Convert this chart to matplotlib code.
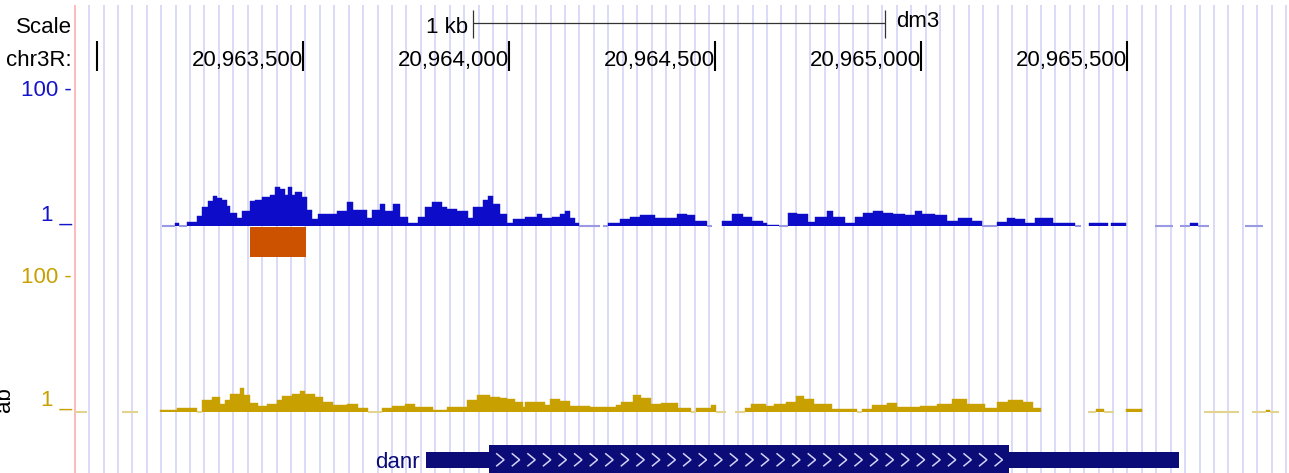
import numpy as np
import matplotlib
matplotlib.use("Agg")
import matplotlib.pyplot as plt

plt.rcParams['font.family'] = ['Liberation Sans', 'DejaVu Sans']

# =========================
# Data (dm3, chr3R window)
# =========================
view_start = 20962947
view_end = 20965894
chrom_base = 20963000

ruler_ticks = [20963000, 20963500, 20964000, 20964500, 20965000, 20965500]
ruler_labels = ['', '20,963,500', '20,964,000', '20,964,500', '20,965,000', '20,965,500']
scale_bar = (20963913, 20964913)

nan = np.nan

# blue signal: interval starts (bp after chrom_base) and values; nan = no data
blue_pos = [159, 190, 200, 219, 243, 256, 270, 282, 292, 304,
            316, 324, 340, 353, 372, 384, 401, 421, 433, 445,
            457, 464, 474, 481, 498, 510, 523, 537, 571, 583,
            607, 622, 656, 668, 688, 700, 719, 736, 756, 780,
            797, 814, 838, 850, 874, 901, 913, 938, 950, 962,
            979, 996, 1010, 1040, 1069, 1081, 1105, 1124, 1137, 1149,
            1161, 1171, 1222, 1229, 1241, 1270, 1294, 1319, 1355, 1374,
            1408, 1433, 1452, 1481, 1493, 1518, 1542, 1569, 1590, 1617,
            1627, 1656, 1678, 1700, 1726, 1743, 1772, 1787, 1816, 1840,
            1860, 1884, 1908, 1933, 1962, 1986, 2003, 2035, 2064, 2090,
            2124, 2149, 2185, 2209, 2229, 2253, 2277, 2321, 2374, 2389,
            2408, 2454, 2462, 2498, 2568, 2612, 2629, 2653, 2673, 2700,
            2787]
blue_val = [0, 1.12, 0, 1.18, 1.43, 1.90, 2.40, 2.84, 2.66, 2.48,
            2.03, 1.60, 1.35, 1.71, 2.40, 2.48, 2.75, 2.94, 3.85, 3.60,
            2.94, 3.85, 2.94, 3.25, 2.75, 1.77, 1.27, 1.50, 1.55, 1.71,
            2.25, 1.77, 1.31, 1.77, 2.17, 1.71, 2.17, 1.40, 1.11, 1.40,
            1.96, 2.32, 1.96, 1.83, 1.71, 1.35, 1.96, 2.48, 2.84, 2.17,
            1.55, 1.14, 1.27, 1.40, 1.50, 1.35, 1.40, 1.55, 1.66, 1.35,
            1.11, 0, nan, 0, 1.14, 1.27, 1.40, 1.45, 1.31, 1.35,
            1.52, 1.47, 1.22, 0, nan, 1.22, 1.50, 1.40, 1.22, 1.11,
            1.05, 0, 1.60, 1.50, 1.18, 1.40, 1.71, 1.40, 1.14, 1.40,
            1.60, 1.71, 1.60, 1.50, 1.45, 1.71, 1.50, 1.45, 1.22, 1.31,
            1.22, 0, 1.18, 1.35, 1.27, 1.14, 1.31, 1.14, 0, nan,
            1.11, nan, 1.11, nan, 0, nan, 0, 1.14, 0, nan,
            0]
blue_end = 2831

# yellow signal
yellow_pos = [-53, -23, 61, 101, 154, 195, 243, 256, 280, 299,
              311, 324, 348, 357, 372, 391, 413, 438, 450, 474,
              493, 506, 530, 549, 573, 607, 634, 658, 692, 717,
              748, 773, 816, 850, 899, 923, 955, 979, 997, 1015,
              1034, 1040, 1088, 1100, 1124, 1149, 1197, 1260, 1272, 1302,
              1321, 1345, 1370, 1411, 1442, 1455, 1491, 1503, 1527, 1549,
              1573, 1588, 1624, 1644, 1673, 1697, 1717, 1741, 1785, 1845,
              1857, 1882, 1918, 1942, 1998, 2039, 2076, 2112, 2156, 2185,
              2212, 2248, 2272, 2292, 2406, 2425, 2445, 2469, 2498, 2537,
              2688, 2772, 2804, 2838, 2848]
yellow_val = [0, nan, 0, nan, 1.08, 1.14, 0, 1.50, 1.66, 1.31,
              1.50, 1.83, 2.25, 1.77, 1.35, 1.22, 1.31, 1.50, 1.71, 1.83,
              2.03, 1.83, 1.66, 1.40, 1.27, 1.31, 1.14, 0, 1.14, 1.22,
              1.31, 1.18, 1.07, 1.18, 1.50, 1.77, 1.66, 1.62, 1.55, 1.40,
              1.18, 1.40, 1.27, 1.55, 1.45, 1.22, 1.18, 1.27, 1.40, 1.77,
              1.60, 1.31, 1.35, 1.14, 0, 1.14, 1.27, 0, nan, 0,
              1.14, 1.31, 1.22, 1.31, 1.40, 1.71, 1.55, 1.31, 1.11, 0,
              1.11, 1.27, 1.35, 1.18, 1.22, 1.31, 1.55, 1.31, 1.14, 1.40,
              1.50, 1.40, 1.14, nan, 0, 1.11, 0, nan, 1.11, nan,
              0, nan, 0, 1.07, 0]
yellow_end = 2870

# peak call under the blue track
peak_starts = [20963372]
peak_ends = [20963508]

# gene model
gene_name = 'danr'
tx_start, tx_end = 20963799, 20965627
cds_start, cds_end = 20963952, 20965214

# =========================
# Layout (pixels)
# =========================
W, H = 1289, 473
LABEL_PX = 74.7
bp_per_px = (view_end - view_start) / (W - LABEL_PX)

BLUE = '#0d0dc9'
BLUE_LIGHT = '#9a9ae4'
GOLD = '#c8a000'
GOLD_LIGHT = '#e4d38e'
NAVY = '#0c0c78'
GUIDE = '#dadaf8'

fig = plt.figure(figsize=(W / 100, H / 100), dpi=100)

# background axes: x in bp, y in pixels
ax = fig.add_axes([0, 0, 1, 1])
ax.set_xlim(view_start - LABEL_PX * bp_per_px, view_end)
ax.set_ylim(H, 0)
ax.axis('off')

# blue guide lines every 35 bp
guides = np.arange(20962982, view_end, 35)
ax.vlines(guides, 5, H, colors=GUIDE, linewidth=1.4, zorder=0.5)
ax.vlines(view_start, 5, H, colors='#ffb4b4', linewidth=1.3, zorder=0.6)


def ftext(px, py, s, **kw):
    fig.text(px / W, 1 - py / H, s, fontsize=16, va='baseline', **kw)


# left labels
ftext(72, 33.3, 'Scale', ha='right')
ftext(72, 65.5, 'chr3R:', ha='right')
ftext(72, 96.5, '100 -', ha='right', color='#1414c8')
ftext(72, 220.5, '1 _', ha='right', color='#1414c8')
ftext(72, 283.0, '100 -', ha='right', color=GOLD)
ftext(72, 405.5, '1 _', ha='right', color=GOLD)
fig.text(10 / W, 1 - 400 / H, 'ab', fontsize=16, rotation=90,
         rotation_mode='anchor', ha='center', va='baseline')

# scale bar
ax.hlines(23.5, scale_bar[0], scale_bar[1], colors='#333333', linewidth=0.9)
ax.vlines(scale_bar, 10, 38.5, colors='#333333', linewidth=0.9)
ax.annotate('1 kb', xy=(scale_bar[0], 32.7), xytext=(-3.5, 0),
            textcoords='offset points', ha='right', va='baseline', fontsize=16)
ax.annotate('dm3', xy=(scale_bar[1], 26.7), xytext=(8.5, 0),
            textcoords='offset points', ha='left', va='baseline', fontsize=16)

# base position ruler
ax.vlines(ruler_ticks, 41, 71, colors='black', linewidth=1.5)
for t, lab in zip(ruler_ticks, ruler_labels):
    ax.text(t, 65.7, lab, ha='right', va='baseline', fontsize=16)

# peak block
ax.broken_barh([(s, e - s) for s, e in zip(peak_starts, peak_ends)], (227.3, 29.4),
               facecolors='#cc5200', zorder=2)

# gene model
ax.broken_barh([(tx_start, tx_end - tx_start)], (451.7, 16), facecolors=NAVY, zorder=2)
ax.broken_barh([(cds_start, cds_end - cds_start)], (445, 30), facecolors=NAVY, zorder=2)
arm = 7.3 * bp_per_px
for tip in np.arange(cds_start + 37, cds_end - 10, 37.8):
    ax.plot([tip - arm, tip, tip - arm], [453.8, 459.8, 465.8],
            color='#d4d4f4', linewidth=1.1, zorder=3, solid_joinstyle='miter')
ax.annotate(gene_name, xy=(tx_start, 467.5), xytext=(-4, 0), textcoords='offset points',
            ha='right', va='baseline', fontsize=16, color=NAVY)


# =========================
# Signal tracks (log scale 1..100)
# =========================
def track_axes(top_px, bottom_px):
    a = fig.add_axes([LABEL_PX / W, 1 - bottom_px / H,
                      (W - LABEL_PX) / W, (bottom_px - top_px) / H])
    a.set_xlim(view_start, view_end)
    a.set_yscale('log')
    a.set_ylim(1, 100)
    a.patch.set_alpha(0)
    a.axis('off')
    return a


def draw_signal(a, pos, vals, end, color, zero_color):
    starts = chrom_base + np.array(pos, dtype=float)
    ends = np.append(starts[1:], chrom_base + end)
    vals = np.array(vals, dtype=float)
    widths = ends - starts
    has = vals > 0
    a.bar(starts[has], vals[has] - 1, width=widths[has], bottom=1, align='edge',
          color=color, edgecolor=color, linewidth=0.3)
    zero = vals == 0
    a.hlines(np.ones(zero.sum()), starts[zero], ends[zero], colors=zero_color,
             linewidth=1.5, clip_on=False)


ax_blue = track_axes(90, 226.5)
draw_signal(ax_blue, blue_pos, blue_val, blue_end, BLUE, BLUE_LIGHT)

ax_gold = track_axes(275.3, 411.8)
draw_signal(ax_gold, yellow_pos, yellow_val, yellow_end, GOLD, GOLD_LIGHT)

fig.savefig("out.png", dpi=100)
